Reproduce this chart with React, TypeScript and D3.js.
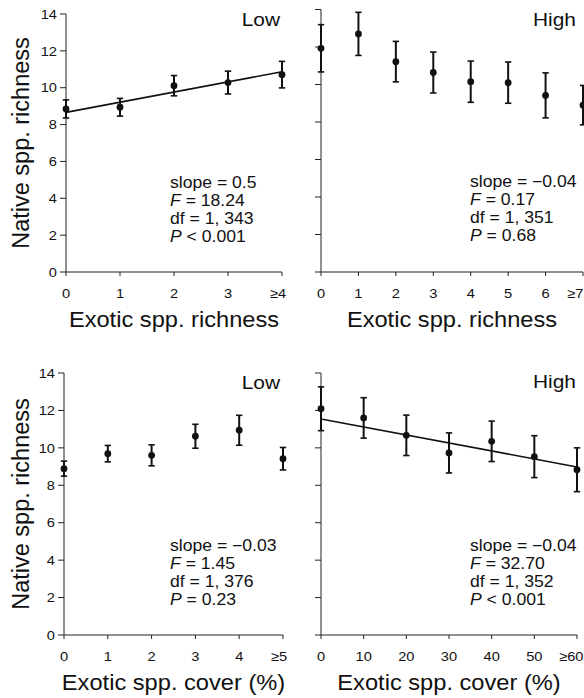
import React from 'react';
import * as d3 from 'd3';

// Native richness vs exotic richness, low-richness plots
const richLowX = [0, 1, 2, 3, 4];
const richLowLabels = ['0', '1', '2', '3', '≥4'];
const richLowMean = [8.85, 8.94, 10.11, 10.28, 10.71];
const richLowSE = [0.49, 0.48, 0.55, 0.62, 0.72];
const richLowFit = [8.66, 10.87];
const richLowStats = ['slope = 0.5', 'F = 18.24', 'df = 1, 343', 'P < 0.001'];

// Native richness vs exotic richness, high-richness plots
const richHighX = [0, 1, 2, 3, 4, 5, 6, 7];
const richHighLabels = ['0', '1', '2', '3', '4', '5', '6', '≥7'];
const richHighMean = [11.93, 12.7, 11.22, 10.64, 10.15, 10.1, 9.42, 8.9];
const richHighSE = [1.26, 1.15, 1.08, 1.09, 1.1, 1.1, 1.2, 1.05];
const richHighStats = ['slope = −0.04', 'F = 0.17', 'df = 1, 351', 'P = 0.68'];

// Native richness vs exotic cover, low
const coverLowX = [0, 1, 2, 3, 4, 5];
const coverLowLabels = ['0', '1', '2', '3', '4', '≥5'];
const coverLowMean = [8.89, 9.69, 9.6, 10.62, 10.94, 9.42];
const coverLowSE = [0.4, 0.44, 0.56, 0.64, 0.8, 0.6];
const coverLowStats = ['slope = −0.03', 'F = 1.45', 'df = 1, 376', 'P = 0.23'];

// Native richness vs exotic cover, high
const coverHighX = [0, 10, 20, 30, 40, 50, 60];
const coverHighLabels = ['0', '10', '20', '30', '40', '50', '≥60'];
const coverHighMean = [12.09, 11.6, 10.67, 9.73, 10.35, 9.53, 8.83];
const coverHighSE = [1.17, 1.08, 1.08, 1.07, 1.08, 1.12, 1.17];
const coverHighFit = [11.54, 8.98];
const coverHighStats = ['slope = −0.04', 'F = 32.70', 'df = 1, 352', 'P < 0.001'];

const yTicks = [0, 2, 4, 6, 8, 10, 12, 14];
const yTickLabels = yTicks.map(String);

const FONT = '"Liberation Sans", Arial, Helvetica, sans-serif';
const SX = 1.1; // glyphs in the figure are a bit wider than Arial
const TICK_FS = 13.3;

const panels = [
  { x: richLowX, labels: richLowLabels, mean: richLowMean, se: richLowSE, fit: richLowFit, stats: richLowStats,
    tag: 'Low', xTitle: 'Exotic spp. richness', left: 66, right: 282, top: 14, bottom: 272, showY: true,
    tagY: 26, statsX: 170, statsY: 188 },
  { x: richHighX, labels: richHighLabels, mean: richHighMean, se: richHighSE, fit: null, stats: richHighStats,
    tag: 'High', xTitle: 'Exotic spp. richness', left: 321, right: 583, top: 9.5, bottom: 272, showY: false,
    tagY: 26, statsX: 470, statsY: 187 },
  { x: coverLowX, labels: coverLowLabels, mean: coverLowMean, se: coverLowSE, fit: null, stats: coverLowStats,
    tag: 'Low', xTitle: 'Exotic spp. cover (%)', left: 64, right: 283, top: 373, bottom: 635, showY: true,
    tagY: 389, statsX: 170, statsY: 551 },
  { x: coverHighX, labels: coverHighLabels, mean: coverHighMean, se: coverHighSE, fit: coverHighFit, stats: coverHighStats,
    tag: 'High', xTitle: 'Exotic spp. cover (%)', left: 321, right: 577, top: 373, bottom: 635, showY: false,
    tagY: 388, statsX: 470, statsY: 551 },
];

const HText = ({ x, y, size, anchor = 'start', children }: any) => (
  <text transform={`translate(${x},${y}) scale(${SX},1)`} fontSize={size} textAnchor={anchor}
    fontFamily={FONT} fill="#111">{children}</text>
);

const StatLine = ({ s }: { s: string }) => {
  if (s.startsWith('F ') || s.startsWith('P ')) {
    return <><tspan fontStyle="italic">{s[0]}</tspan>{s.slice(1)}</>;
  }
  return <>{s}</>;
};

const Panel = ({ p }: any) => {
  const n = p.x.length;
  const xs = d3.scaleLinear().domain([p.x[0], p.x[n - 1]]).range([p.left, p.right]);
  const ys = d3.scaleLinear().domain([0, 14]).range([p.bottom, p.top]);
  const line = d3.line<[number, number]>().x(d => xs(d[0])).y(d => ys(d[1]));
  const digitW = TICK_FS * 0.556 * SX;
  const tickBase = p.bottom + 26;
  return (
    <g>
      {/* y axis */}
      <line x1={p.left} x2={p.left} y1={ys(0)} y2={ys(14)} stroke="#222" strokeWidth={1} />
      {yTicks.map((t, i) => (
        <g key={t}>
          <line x1={p.left - 6} x2={p.left} y1={ys(t)} y2={ys(t)} stroke="#222" strokeWidth={1} />
          {p.showY && <HText x={p.left - 9} y={ys(t) + 4.7} size={TICK_FS} anchor="end">{yTickLabels[i]}</HText>}
        </g>
      ))}
      {/* x axis */}
      <line x1={p.left} x2={p.right} y1={p.bottom} y2={p.bottom} stroke="#222" strokeWidth={1} />
      {p.x.map((v: number, i: number) => {
        const lab = p.labels[i];
        const ge = lab.startsWith('≥');
        const lx = ge ? Math.min(583.5, xs(v) + (digitW * (lab.length - 1)) / 2) : xs(v);
        return (
          <g key={v}>
            <line x1={xs(v)} x2={xs(v)} y1={p.bottom} y2={p.bottom + 4} stroke="#222" strokeWidth={1} />
            <HText x={lx} y={tickBase} size={TICK_FS} anchor={ge ? 'end' : 'middle'}>{lab}</HText>
          </g>
        );
      })}
      {/* regression */}
      {p.fit && (
        <path d={line([[p.x[0], p.fit[0]], [p.x[n - 1], p.fit[1]]]) || ''} fill="none" stroke="#111" strokeWidth={1.6} />
      )}
      {/* error bars and means */}
      {p.x.map((v: number, i: number) => {
        const cx = xs(v);
        const y1 = ys(p.mean[i] - p.se[i]);
        const y2 = ys(p.mean[i] + p.se[i]);
        return (
          <g key={'e' + v} stroke="#111" strokeWidth={2}>
            <line x1={cx} x2={cx} y1={y1} y2={y2} />
            <line x1={cx - 3.2} x2={cx + 3.2} y1={y1} y2={y1} strokeWidth={1.6} />
            <line x1={cx - 3.2} x2={cx + 3.2} y1={y2} y2={y2} strokeWidth={1.6} />
            <circle cx={cx} cy={ys(p.mean[i])} r={3.4} fill="#111" stroke="none" />
          </g>
        );
      })}
      {/* stats block */}
      {p.stats.map((s: string, i: number) => (
        <HText key={s} x={p.statsX} y={p.statsY + i * 18} size={16}>
          <StatLine s={s} />
        </HText>
      ))}
      <HText x={p.showY ? 280 : 576} y={p.tagY} size={19} anchor="end">{p.tag}</HText>
      <HText x={(p.left + p.right) / 2} y={p.bottom + 55} size={21.5} anchor="middle">{p.xTitle}</HText>
      {p.showY && (
        <text transform={`translate(29,${(p.top + p.bottom) / 2}) rotate(-90)`} fontSize={23.5}
          textAnchor="middle" fontFamily={FONT} fill="#111">Native spp. richness</text>
      )}
    </g>
  );
};

export default function App() {
  return (
    <svg width={584} height={698} style={{ position: 'absolute', left: 0, top: 0, background: '#fff' }}>
      {panels.map((p, i) => <Panel key={i} p={p} />)}
    </svg>
  );
}
